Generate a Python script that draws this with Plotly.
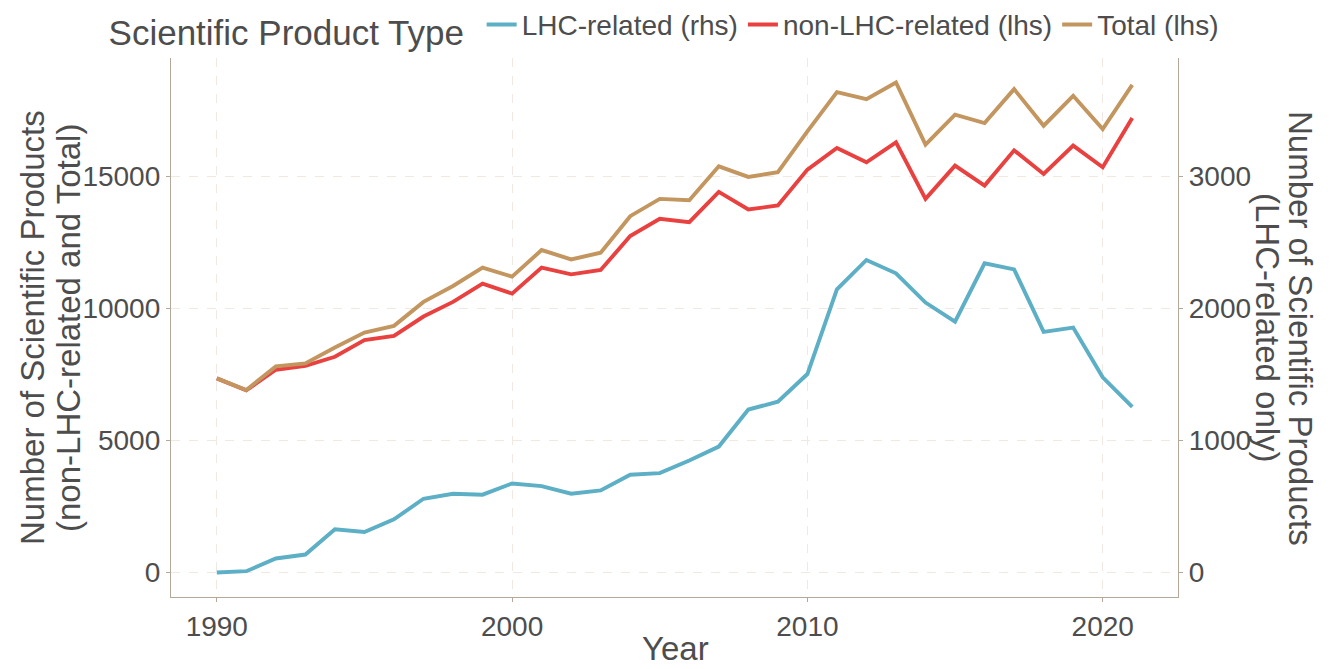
import plotly.graph_objects as go

years = list(range(1990, 2022))

lhc_related = [0, 10, 106, 136, 327, 307, 402, 558, 596, 589,
               674, 654, 596, 621, 740, 752, 848, 953, 1233, 1293,
               1502, 2143, 2365, 2264, 2043, 1899, 2340, 2294, 1821, 1854,
               1477, 1253]

non_lhc_related = [7347, 6895, 7672, 7823, 8163, 8792, 8956, 9686, 10239, 10932,
                   10553, 11535, 11283, 11446, 12730, 13384, 13258, 14403, 13736, 13887,
                   15245, 16063, 15522, 16277, 14138, 15396, 14641, 15974, 15082, 16151,
                   15333, 17197]

total = [7347, 6905, 7800, 7913, 8516, 9082, 9333, 10239, 10843, 11535,
         11195, 12201, 11849, 12101, 13484, 14138, 14087, 15370, 14969, 15145,
         16692, 18176, 17912, 18541, 16189, 17321, 17006, 18290, 16906, 18038,
         16780, 18453]

series_names = ["LHC-related (rhs)", "non-LHC-related (lhs)", "Total (lhs)"]
colors = ["#5DAFC6", "#E8413F", "#C4965F"]

x_ticks = [1990, 2000, 2010, 2020]
y_ticks = [0, 5000, 10000, 15000]
y2_ticks = [0, 1000, 2000, 3000]

TXT = "#4D4D4D"
AX = "#B3A899"
GRID = "#F1E9E1"
FONT = "Liberation Sans, Arial, sans-serif"

fig = go.Figure()
fig.add_trace(go.Scatter(x=years, y=lhc_related, name=series_names[0], mode="lines",
                         line=dict(color=colors[0], width=3.9), yaxis="y2"))
fig.add_trace(go.Scatter(x=years, y=non_lhc_related, name=series_names[1], mode="lines",
                         line=dict(color=colors[1], width=3.9)))
fig.add_trace(go.Scatter(x=years, y=total, name=series_names[2], mode="lines",
                         line=dict(color=colors[2], width=3.9)))

ymax = max(total)
pad = 0.05 * ymax
yrange = [-pad, ymax + pad]
xrange = [years[0] - 0.05 * (years[-1] - years[0]), years[-1] + 0.05 * (years[-1] - years[0])]

tickfont = dict(size=28, color=TXT)

# page offset of 8px (default body margin) is compensated in the margins
fig.update_layout(
    width=1325, height=661,
    margin=dict(l=163, r=155, t=50, b=72, autoexpand=False),
    paper_bgcolor="white", plot_bgcolor="white",
    font=dict(family=FONT, color=TXT),
    showlegend=True,
    legend=dict(orientation="h", x=-0.064, y=1.056, xanchor="left", yanchor="middle",
                title=dict(text="Scientific Product Type ", font=dict(size=35, color=TXT), side="left"),
                font=dict(size=28, color=TXT), itemwidth=30, tracegroupgap=0,
                bgcolor="rgba(0,0,0,0)"),
    xaxis=dict(range=xrange, tickvals=x_ticks, tickformat="d", showgrid=True, gridcolor=GRID,
               griddash="dash", gridwidth=1, zeroline=False, showline=True, linecolor=AX,
               linewidth=1.3, ticks="outside", ticklen=4, tickcolor=AX, tickfont=tickfont,
               automargin=False),
    yaxis=dict(range=yrange, tickvals=y_ticks, tickformat="d", showgrid=True, gridcolor=GRID,
               griddash="dash", gridwidth=1, zeroline=False, showline=True, linecolor=AX,
               linewidth=1.3, ticks="outside", ticklen=4, tickcolor=AX, tickfont=tickfont,
               automargin=False),
    yaxis2=dict(range=[v / 5 for v in yrange], tickvals=y2_ticks, tickformat="d",
                overlaying="y", side="right", showgrid=False, zeroline=False, showline=True,
                linecolor=AX, linewidth=1.3, ticks="outside", ticklen=4, tickcolor=AX,
                tickfont=tickfont, automargin=False),
)

# helpers: page pixel -> paper coordinates (plot area spans x 171..1178, y 58..597 on the page)
PW = 1007
PH = 539

def px_x(p):
    return (p - 171) / PW

def px_y(p):
    return (597 - p) / PH

annots = [
    dict(text="Year", x=px_x(675), y=px_y(648), textangle=0, size=33),
    dict(text="Number of Scientific Products", x=px_x(32), y=px_y(328), textangle=-90, size=33),
    dict(text="(non-LHC-related and Total)", x=px_x(68), y=px_y(328), textangle=-90, size=33),
    dict(text="Number of Scientific Products", x=px_x(1301), y=px_y(328), textangle=90, size=33),
    dict(text="(LHC-related only)", x=px_x(1268), y=px_y(328), textangle=90, size=33),
]
for a in annots:
    fig.add_annotation(text=a["text"], x=a["x"], y=a["y"], xref="paper", yref="paper",
                       xanchor="center", yanchor="middle", showarrow=False,
                       textangle=a["textangle"], font=dict(size=a["size"], color=TXT, family=FONT))

fig.write_html("out.html")
